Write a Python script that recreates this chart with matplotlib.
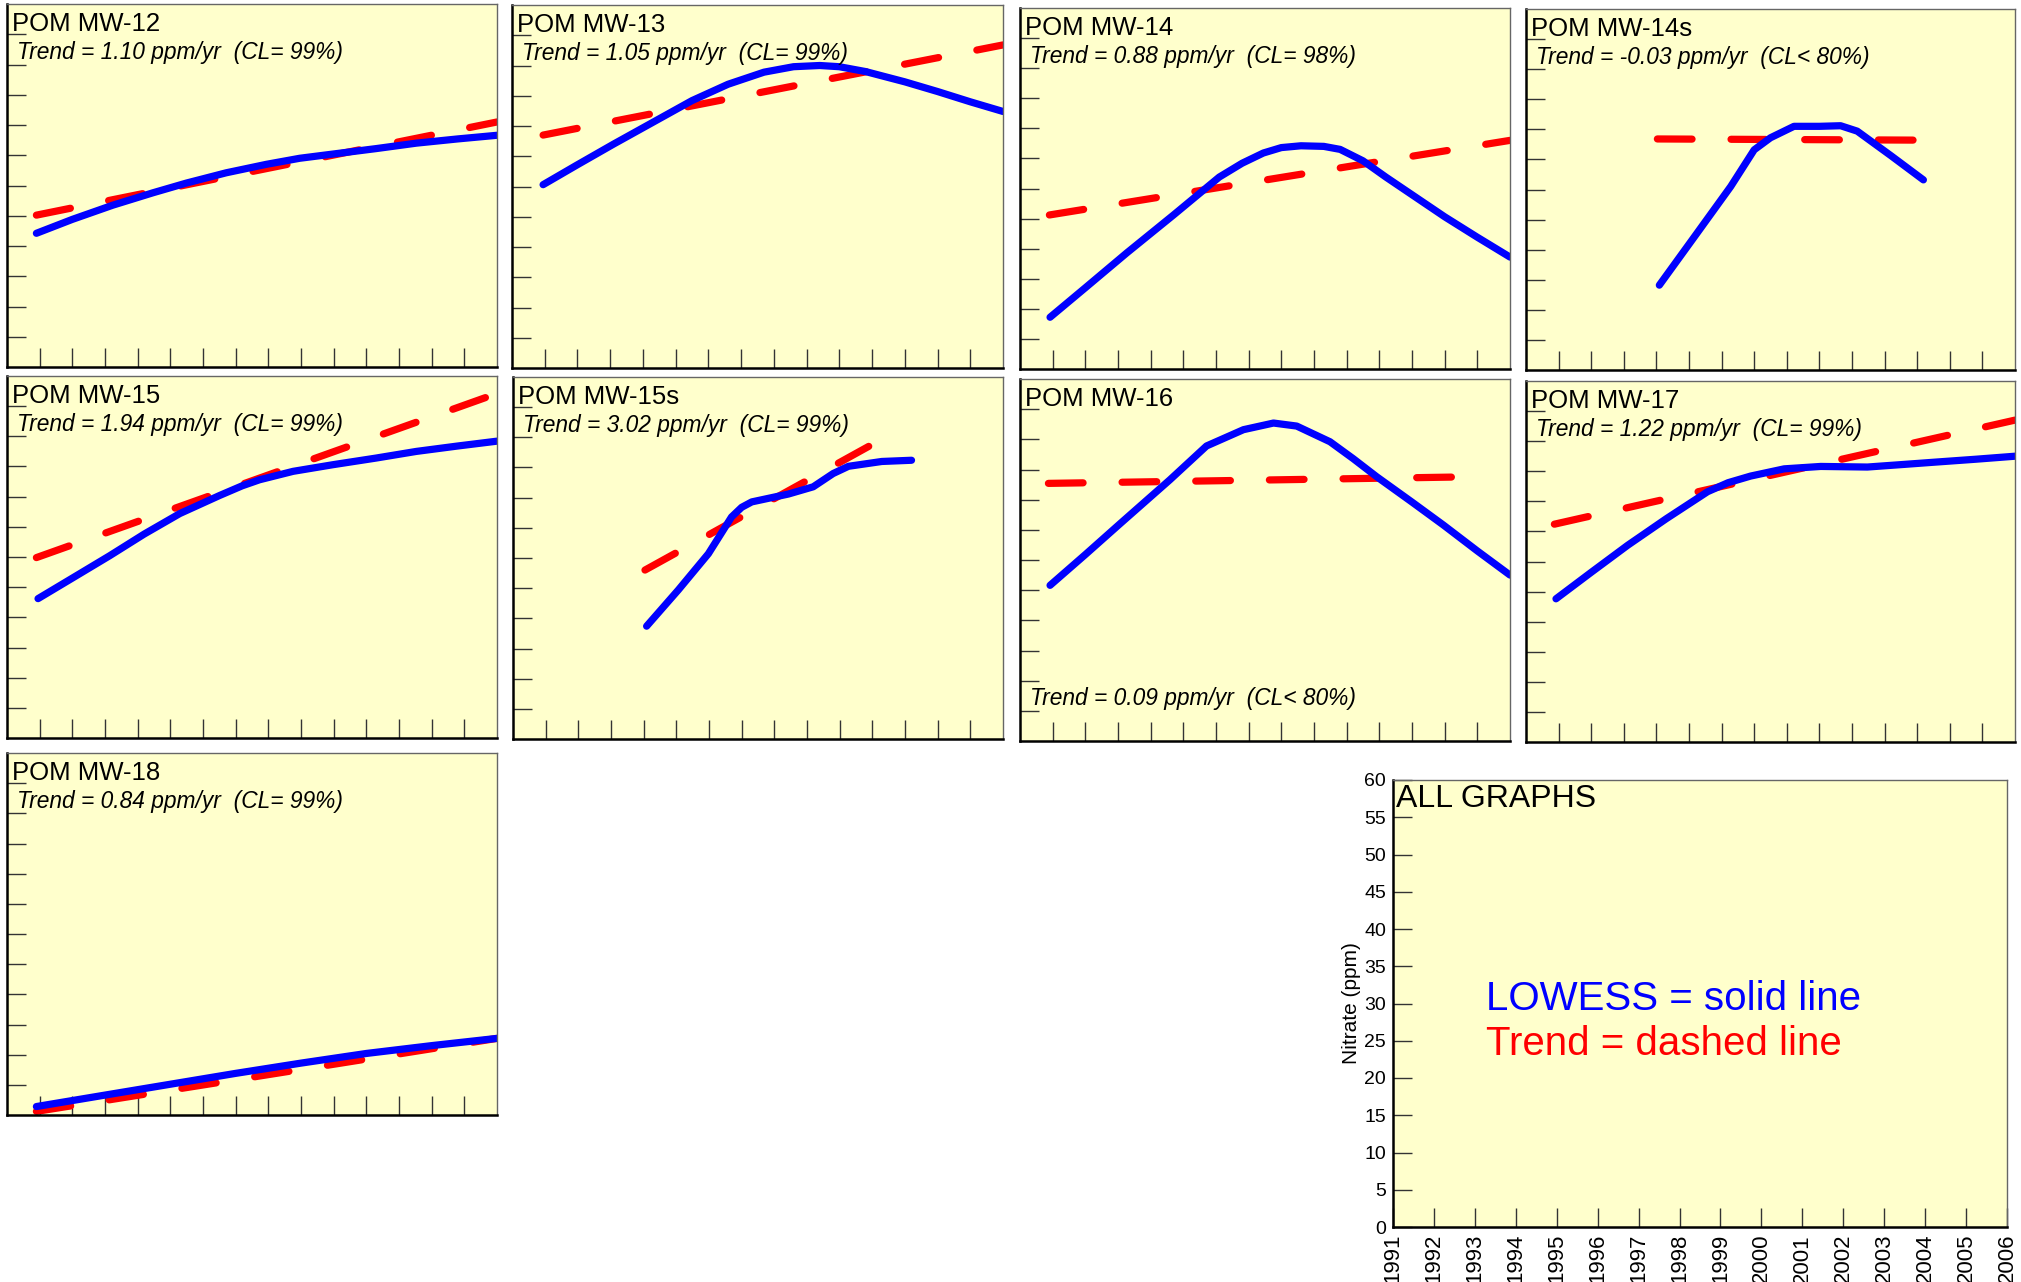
import matplotlib
matplotlib.use("Agg")
import matplotlib.pyplot as plt

plt.rcParams['font.family'] = ['Liberation Sans', 'DejaVu Sans']

# ---- data (year, nitrate ppm) ----
mw12_yr = [1991.9, 1993.0, 1994.24, 1995.47, 1996.49, 1997.71, 1998.94, 1999.96, 2000.98, 2002.3, 2003.53, 2004.8, 2006.0]
mw12_lowess = [22.1, 24.4, 26.75, 28.8, 30.4, 32.1, 33.5, 34.5, 35.2, 36.1, 37.0, 37.7, 38.3]
mw12_trend_yr = [1991.9, 2006.0]
mw12_trend = [25.1, 40.5]

mw13_yr = [1991.95, 1993.0, 1994.1, 1995.3, 1996.5, 1997.6, 1998.7, 1999.6, 2000.4, 2001.0, 2001.8, 2003.0, 2004.0, 2005.0, 2006.0]
mw13_lowess = [30.3, 33.6, 37.0, 40.6, 44.2, 46.9, 48.9, 49.8, 50.0, 49.8, 49.0, 47.3, 45.7, 44.0, 42.4]
mw13_trend_yr = [1991.95, 2006.0]
mw13_trend = [38.5, 53.4]

mw14_yr = [1991.92, 1993.0, 1994.27, 1995.7, 1997.1, 1997.8, 1998.45, 1999.0, 1999.6, 2000.3, 2000.8, 2001.5, 2002.2, 2003.1, 2004.0, 2005.0, 2006.0]
mw14_lowess = [8.6, 13.5, 19.3, 25.6, 31.9, 34.2, 35.9, 36.8, 37.1, 37.0, 36.5, 34.6, 31.9, 28.6, 25.3, 21.9, 18.6]
mw14_trend_yr = [1991.9, 2006.0]
mw14_trend = [25.6, 38.0]

mw14s_yr = [1995.09, 1996.2, 1997.28, 1998.0, 1998.5, 1999.22, 2000.0, 2000.65, 2001.16, 2002.2, 2003.19]
mw14s_lowess = [14.1, 22.4, 30.5, 36.6, 38.6, 40.5, 40.5, 40.6, 39.7, 35.6, 31.6]
mw14s_trend_yr = [1995.03, 2003.26]
mw14s_trend = [38.4, 38.2]

mw15_yr = [1991.95, 1993.0, 1994.14, 1995.2, 1996.29, 1997.51, 1998.2, 1998.73, 1999.76, 2000.98, 2002.3, 2003.53, 2004.8, 2006.0]
mw15_lowess = [23.1, 26.5, 30.2, 33.8, 37.2, 40.2, 41.8, 42.8, 44.2, 45.3, 46.4, 47.5, 48.4, 49.2]
mw15_trend_yr = [1991.9, 2006.0]
mw15_trend = [29.9, 57.1]

mw15s_yr = [1995.09, 1996.06, 1996.98, 1997.69, 1998.0, 1998.31, 1999.43, 2000.19, 2000.8, 2001.27, 2002.29, 2003.2]
mw15s_lowess = [18.7, 24.7, 30.7, 36.8, 38.4, 39.3, 40.6, 41.8, 44.0, 45.2, 46.0, 46.2]
mw15s_trend_yr = [1995.04, 2002.29]
mw15s_trend = [28.0, 49.7]

mw16_yr = [1991.92, 1993.0, 1994.06, 1995.59, 1996.71, 1997.84, 1998.76, 1999.47, 2000.49, 2001.2, 2001.92, 2003.0, 2003.96, 2005.0, 2006.0]
mw16_lowess = [25.8, 30.9, 36.0, 43.3, 48.9, 51.6, 52.7, 52.2, 49.6, 46.8, 43.8, 39.6, 35.8, 31.5, 27.5]
mw16_trend_yr = [1991.87, 2004.93]
mw16_trend = [42.7, 43.8]

mw17_yr = [1991.92, 1993.0, 1994.12, 1995.3, 1996.57, 1997.2, 1997.89, 1998.92, 2000.04, 2001.47, 2002.5, 2003.51, 2004.8, 2006.0]
mw17_lowess = [23.8, 28.2, 32.7, 37.1, 41.6, 43.1, 44.2, 45.4, 45.8, 45.7, 46.1, 46.5, 47.0, 47.5]
mw17_trend_yr = [1991.87, 2006.0]
mw17_trend = [36.2, 53.5]

mw18_yr = [1991.9, 1994.0, 1996.0, 1998.0, 2000.0, 2002.0, 2004.0, 2006.0]
mw18_lowess = [1.4, 3.3, 5.1, 6.9, 8.6, 10.2, 11.5, 12.7]
mw18_trend_yr = [1991.9, 2006.0]
mw18_trend = [0.6, 12.7]

well_names = ["POM MW-12", "POM MW-13", "POM MW-14", "POM MW-14s", "POM MW-15",
	"POM MW-15s", "POM MW-16", "POM MW-17", "POM MW-18"]
trend_labels = [
	"Trend = 1.10 ppm/yr  (CL= 99%)",
	"Trend = 1.05 ppm/yr  (CL= 99%)",
	"Trend = 0.88 ppm/yr  (CL= 98%)",
	"Trend = -0.03 ppm/yr  (CL< 80%)",
	"Trend = 1.94 ppm/yr  (CL= 99%)",
	"Trend = 3.02 ppm/yr  (CL= 99%)",
	"Trend = 0.09 ppm/yr  (CL< 80%)",
	"Trend = 1.22 ppm/yr  (CL= 99%)",
	"Trend = 0.84 ppm/yr  (CL= 99%)",
]
year_ticks = list(range(1991, 2007))
ppm_ticks = list(range(0, 61, 5))

# ---- layout (pixel boxes: left, top, right, bottom) ----
W, H = 2021, 1282
boxes = [
	(7, 4, 497, 367), (512, 5, 1003, 368), (1020, 8, 1510, 369), (1526, 9, 2015, 370),
	(7, 376, 497, 738), (513, 377, 1003, 739), (1020, 379, 1510, 741), (1526, 381, 2015, 742),
	(7, 753, 497, 1115),
]
all_box = (1393, 780, 2007, 1227)

BG = "#FFFFCC"
LW = 5.2


def MakeAxes(fig, box):
	l, t, r, b = box
	return fig.add_axes([l / W, 1 - b / H, (r - l) / W, (b - t) / H])


def StylePanel(ax):
	ax.set_xlim(1991, 2006)
	ax.set_ylim(0, 60)
	ax.set_facecolor(BG)
	ax.set_xticks(year_ticks[1:-1])
	ax.set_yticks(ppm_ticks[1:-1])
	ax.tick_params(direction="in", length=14, width=1.0, color="#333333",
		labelbottom=False, labelleft=False)
	for s in ["left", "bottom"]:
		ax.spines[s].set_color("black")
		ax.spines[s].set_linewidth(1.8)
	for s in ["top", "right"]:
		ax.spines[s].set_color("#666666")
		ax.spines[s].set_linewidth(1.0)


def DrawWell(ax, name, label, yr, lowess, tyr, trend, label_bottom=False):
	StylePanel(ax)
	ax.plot(tyr, trend, color="#FF0000", lw=LW, linestyle=(0, (4.8, 5.4)),
		dash_capstyle="round")
	ax.plot(yr, lowess, color="#0000FF", lw=LW, solid_capstyle="round",
		solid_joinstyle="round")
	ax.text(0.010, 0.925, name, transform=ax.transAxes, fontsize=18.5, va="baseline")
	ty = 0.099 if label_bottom else 0.848
	ax.text(0.02, ty, label, transform=ax.transAxes, fontsize=16.4, style="italic",
		va="baseline")


def main():
	fig = plt.figure(figsize=(W / 100, H / 100), dpi=100)

	series = [
		(mw12_yr, mw12_lowess, mw12_trend_yr, mw12_trend),
		(mw13_yr, mw13_lowess, mw13_trend_yr, mw13_trend),
		(mw14_yr, mw14_lowess, mw14_trend_yr, mw14_trend),
		(mw14s_yr, mw14s_lowess, mw14s_trend_yr, mw14s_trend),
		(mw15_yr, mw15_lowess, mw15_trend_yr, mw15_trend),
		(mw15s_yr, mw15s_lowess, mw15s_trend_yr, mw15s_trend),
		(mw16_yr, mw16_lowess, mw16_trend_yr, mw16_trend),
		(mw17_yr, mw17_lowess, mw17_trend_yr, mw17_trend),
		(mw18_yr, mw18_lowess, mw18_trend_yr, mw18_trend),
	]
	for i, (yr, lw_, tyr, tr) in enumerate(series):
		ax = MakeAxes(fig, boxes[i])
		DrawWell(ax, well_names[i], trend_labels[i], yr, lw_, tyr, tr,
			label_bottom=(well_names[i] == "POM MW-16"))

	# summary panel
	ax = MakeAxes(fig, all_box)
	StylePanel(ax)
	ax.set_xticks(year_ticks)
	ax.set_yticks(ppm_ticks)
	ax.set_xticklabels([str(y) for y in year_ticks], rotation=90, fontsize=16)
	ax.set_yticklabels([str(v) for v in ppm_ticks], fontsize=14)
	ax.tick_params(labelbottom=True, labelleft=True, pad=5)
	ax.set_ylabel("Nitrate (ppm)", fontsize=15, labelpad=2)
	ax.text(0.005, 0.94, "ALL GRAPHS", transform=ax.transAxes, fontsize=23, va="baseline")
	ax.text(0.151, 0.485, "LOWESS = solid line", transform=ax.transAxes, fontsize=29,
		color="#0000FF", va="baseline")
	ax.text(0.151, 0.384, "Trend = dashed line", transform=ax.transAxes, fontsize=29,
		color="#FF0000", va="baseline")

	fig.savefig("out.png", dpi=100)
	plt.close(fig)


if __name__ == "__main__":
	main()
